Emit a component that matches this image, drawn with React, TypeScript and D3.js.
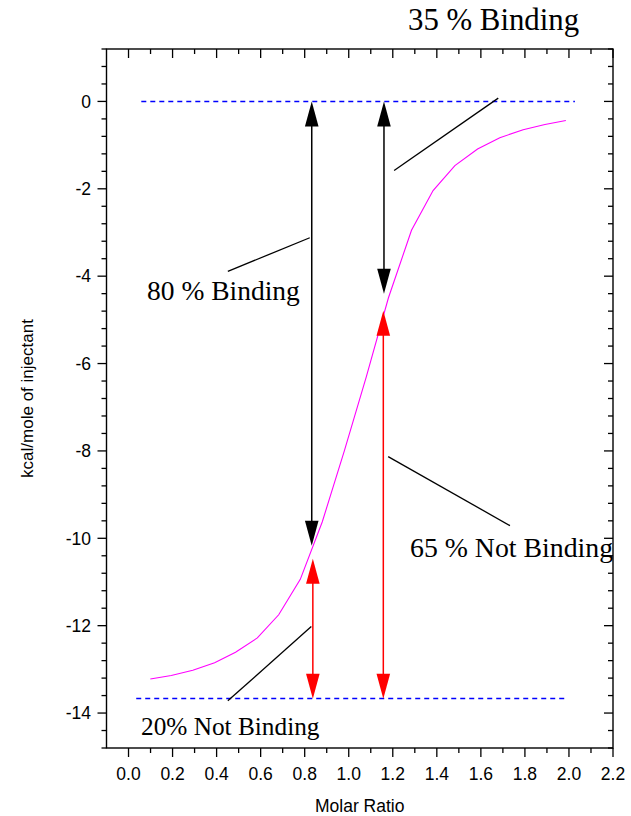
import React from "react";
import * as d3 from "d3";

// Molar ratio of each injection and fitted heat (kcal/mole of injectant)
const molarRatio = [0.099, 0.194, 0.292, 0.391, 0.486, 0.585, 0.682, 0.78, 0.88, 0.98, 1.08, 1.18, 1.285, 1.383, 1.482, 1.585, 1.686, 1.792, 1.891, 1.986];
const heat = [-13.22, -13.14, -13.02, -12.85, -12.61, -12.28, -11.75, -10.94, -9.62, -8.0, -6.3, -4.5, -2.95, -2.04, -1.47, -1.09, -0.83, -0.65, -0.53, -0.435];

const xTicks = [0.0, 0.2, 0.4, 0.6, 0.8, 1.0, 1.2, 1.4, 1.6, 1.8, 2.0, 2.2];
const yTicks = [0, -2, -4, -6, -8, -10, -12, -14];

// reference levels (dashed)
const refLines = [
  { y: 0, x0: 0.058, x1: 2.027 },
  { y: -13.67, x0: 0.035, x1: 1.99 },
];

// double arrows
const arrows = [
  { x: 0.832, y0: 0, y1: -10.17, color: "#000000" },
  { x: 1.16, y0: 0, y1: -4.4, color: "#000000" },
  { x: 0.837, y0: -10.47, y1: -13.67, color: "#ff0000" },
  { x: 1.157, y0: -4.79, y1: -13.67, color: "#ff0000" },
];

// leader lines
const leaders = [
  { x0: 1.206, y0: -1.58, x1: 1.679, y1: 0.076 },
  { x0: 0.451, y0: -3.89, x1: 0.823, y1: -3.12 },
  { x0: 1.179, y0: -8.13, x1: 1.732, y1: -9.71 },
  { x0: 0.451, y0: -13.72, x1: 0.83, y1: -12.02 },
];

const labels = [
  { text: "35 % Binding", x: 408, y: 30, size: 30.8, clip: false },
  { text: "80 % Binding", x: 147, y: 300, size: 27.5, clip: false },
  { text: "65 % Not Binding", x: 410, y: 557, size: 27.8, clip: true },
  { text: "20% Not Binding", x: 141, y: 735, size: 25.3, clip: false },
];

export default function App() {
  const W = 631, H = 816;
  const L = 106.5, R = 613, T = 49, B = 748;
  const x = d3.scaleLinear().domain([-0.1, 2.2]).range([L, R]);
  const y = d3.scaleLinear().domain([-14.8, 1.2]).range([B, T]);
  const snap = (v: number) => Math.round(v - 0.5) + 0.5;

  const line = d3.line<number>().x((_, i) => x(molarRatio[i])).y((d) => y(d));

  const xMinor = d3.range(1, 22, 2).map((v) => v / 10);
  const yMinor = d3.range(-37, 4).map((v) => v * 0.4).filter((v) => Math.abs(v / 2 - Math.round(v / 2)) > 1e-6);

  const sans = "Arial, 'Liberation Sans', sans-serif";
  const serif = "'Times New Roman', 'Liberation Serif', serif";

  const head = (px: number, py: number, dir: number, len: number, hw: number) =>
    `M${px},${py} L${px - hw},${py + dir * len} L${px + hw},${py + dir * len} Z`;

  return (
    <svg width={W} height={H} style={{ position: "absolute", left: 0, top: 0, background: "#fff" }}>
      <defs>
        <clipPath id="plotclip">
          <rect x={0} y={0} width={R} height={H} />
        </clipPath>
      </defs>
      <rect x={0} y={0} width={W} height={H} fill="#fff" />

      {/* dashed reference lines */}
      {refLines.map((r, i) => (
        <line key={"r" + i} x1={x(r.x0)} x2={x(r.x1)} y1={snap(y(r.y))} y2={snap(y(r.y))} stroke="#0000ff" strokeWidth={1.5} strokeDasharray="5,4" />
      ))}

      {/* fitted curve */}
      <path d={line(heat) || ""} fill="none" stroke="#ff00ff" strokeWidth={1.1} />

      {/* leader lines */}
      {leaders.map((l, i) => (
        <line key={"l" + i} x1={x(l.x0)} y1={y(l.y0)} x2={x(l.x1)} y2={y(l.y1)} stroke="#000" strokeWidth={1.3} />
      ))}

      {/* arrows */}
      {arrows.map((a, i) => {
        const px = x(a.x), top = y(a.y0), bot = y(a.y1);
        const len = 25, hw = 6.8;
        return (
          <g key={"a" + i}>
            <line x1={px} x2={px} y1={top + len - 2} y2={bot - len + 2} stroke={a.color} strokeWidth={1.5} />
            <path d={head(px, top, 1, len, hw)} fill={a.color} />
            <path d={head(px, bot, -1, len, hw)} fill={a.color} />
          </g>
        );
      })}

      {/* annotation texts */}
      {labels.map((t, i) => (
        <text key={"t" + i} x={t.x} y={t.y} fontFamily={serif} fontSize={t.size} fill="#000" clipPath={t.clip ? "url(#plotclip)" : undefined}>
          {t.text}
        </text>
      ))}

      {/* frame */}
      <rect x={L} y={T} width={R - L} height={B - T} fill="none" stroke="#000" strokeWidth={1.4} />

      {/* x ticks */}
      {xTicks.map((v) => (
        <g key={"xt" + v}>
          <line x1={x(v)} x2={x(v)} y1={B} y2={B + 9} stroke="#000" strokeWidth={1.3} />
          <line x1={x(v)} x2={x(v)} y1={T} y2={T + 9} stroke="#000" strokeWidth={1.3} />
          <text x={x(v)} y={780} textAnchor="middle" fontFamily={sans} fontSize={17.5} fill="#000">
            {v.toFixed(1)}
          </text>
        </g>
      ))}
      {xMinor.map((v) => (
        <g key={"xm" + v}>
          <line x1={x(v)} x2={x(v)} y1={B} y2={B + 5} stroke="#000" strokeWidth={1.3} />
          <line x1={x(v)} x2={x(v)} y1={T} y2={T + 5} stroke="#000" strokeWidth={1.3} />
        </g>
      ))}

      {/* y ticks */}
      {yTicks.map((v) => (
        <g key={"yt" + v}>
          <line x1={L - 9} x2={L} y1={y(v)} y2={y(v)} stroke="#000" strokeWidth={1.3} />
          <line x1={R - 9} x2={R} y1={y(v)} y2={y(v)} stroke="#000" strokeWidth={1.3} />
          <text x={91} y={y(v)} dy="0.36em" textAnchor="end" fontFamily={sans} fontSize={17.5} fill="#000">
            {v}
          </text>
        </g>
      ))}
      {yMinor.map((v) => (
        <g key={"ym" + v}>
          <line x1={L - 5} x2={L} y1={y(v)} y2={y(v)} stroke="#000" strokeWidth={1.3} />
          <line x1={R - 5} x2={R} y1={y(v)} y2={y(v)} stroke="#000" strokeWidth={1.3} />
        </g>
      ))}

      {/* axis titles */}
      <text x={(L + R) / 2} y={812} textAnchor="middle" fontFamily={sans} fontSize={17.5} fill="#000">
        Molar Ratio
      </text>
      <text transform={`translate(33,${(T + B) / 2}) rotate(-90)`} textAnchor="middle" fontFamily={sans} fontSize={17} fill="#000">
        kcal/mole of injectant
      </text>
    </svg>
  );
}
